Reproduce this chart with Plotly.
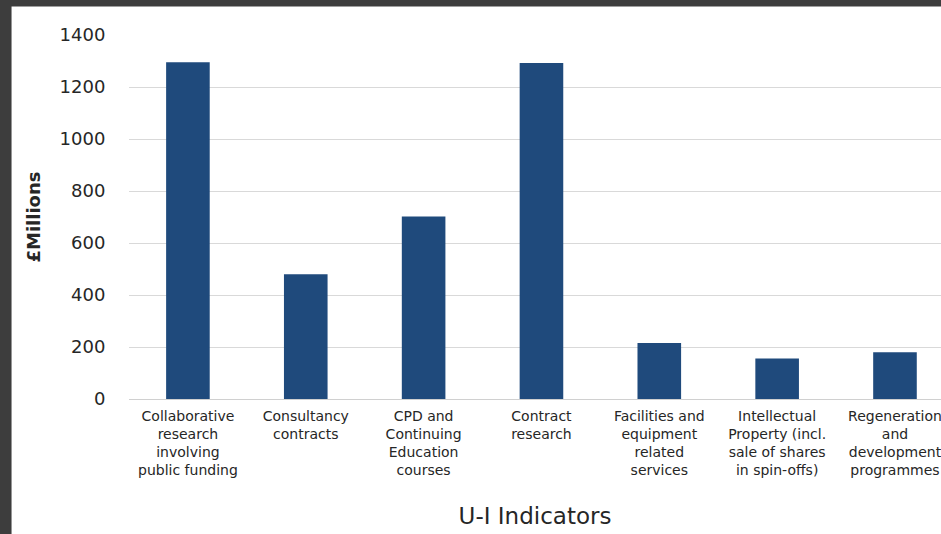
import plotly.graph_objects as go

# ---- data ----
categories = [
    "Collaborative research involving public funding",
    "Consultancy contracts",
    "CPD and Continuing Education courses",
    "Contract research",
    "Facilities and equipment related services",
    "Intellectual Property (incl. sale of shares in spin-offs)",
    "Regeneration and development programmes",
]
tick_labels = [
    "Collaborative<br>research<br>involving<br>public funding",
    "Consultancy<br>contracts",
    "CPD and<br>Continuing<br>Education<br>courses",
    "Contract<br>research",
    "Facilities and<br>equipment<br>related<br>services",
    "Intellectual<br>Property (incl.<br>sale of shares<br>in spin-offs)",
    "Regeneration<br>and<br>development<br>programmes",
]
values = [1295, 480, 702, 1292, 215, 156, 180]
y_ticks = [0, 200, 400, 600, 800, 1000, 1200, 1400]

W, H = 941, 534
plot_left, plot_right = 129.4, 941
plot_top, plot_bottom = 34.6, 399.3
band = 117.8
x_hi = 6.5 - (953.9 - plot_right) / band

FONT = "DejaVu Sans"
TXT = "#262626"

fig = go.Figure()
fig.add_trace(go.Bar(
    x=list(range(len(categories))),
    y=values,
    width=0.37,
    marker=dict(color="#1f4a7c", line=dict(width=0)),
    hovertext=categories,
))

pw = plot_right - plot_left
ph = plot_bottom - plot_top
fig.add_shape(
    type="rect", xref="paper", yref="paper", layer="below",
    x0=(12 - plot_left) / pw, x1=1.2,
    y0=-0.6, y1=(plot_bottom - 6) / ph,
    fillcolor="white", line=dict(width=0),
)

fig.update_layout(
    template="none",
    width=W, height=H,
    margin=dict(l=plot_left, r=0, t=plot_top, b=H - plot_bottom, pad=0),
    paper_bgcolor="#3d3d3d",
    plot_bgcolor="rgba(0,0,0,0)",
    showlegend=False,
    bargap=0.63,
    xaxis=dict(
        range=[-0.5, x_hi],
        tickmode="array",
        tickvals=list(range(len(categories))),
        ticktext=tick_labels,
        tickangle=0,
        ticklabeloverflow="allow",
        ticks="outside", ticklen=4, tickcolor="rgba(0,0,0,0)",
        showgrid=False, zeroline=False, showline=False,
        tickfont=dict(family=FONT, size=14, color=TXT),
        title=dict(text="U-I Indicators", standoff=30,
                   font=dict(family=FONT, size=23, color=TXT)),
        automargin=False,
    ),
    yaxis=dict(
        range=[0, 1400],
        tickmode="array",
        tickvals=y_ticks,
        ticks="outside", ticklen=19, tickcolor="rgba(0,0,0,0)",
        showgrid=True, gridcolor="#d9d9d9", gridwidth=1,
        zeroline=True, zerolinecolor="#d0d0d0", zerolinewidth=1,
        showline=False,
        tickfont=dict(family=FONT, size=18, color=TXT),
        title=dict(text="£Millions", standoff=14,
                   font=dict(family=FONT, size=18, color=TXT, weight="bold")),
        automargin=False,
    ),
)

fig.write_html(
    "out.html",
    config={"displayModeBar": False},
    post_script="document.body.style.margin='0';document.body.style.background='#3d3d3d';document.body.style.overflow='hidden';",
)
